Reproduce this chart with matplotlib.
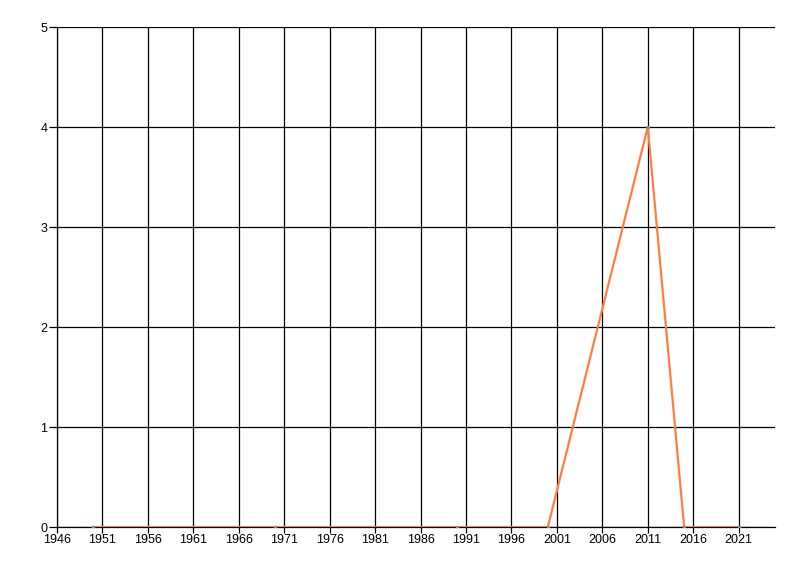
import matplotlib
matplotlib.use('Agg')
import matplotlib.pyplot as plt

years = [1950, 1970, 1990, 2000, 2011, 2015, 2021]
values = [0, 0, 0, 0, 4, 0, 0]
x_ticks = list(range(1946, 2022, 5))
y_ticks = [0, 1, 2, 3, 4, 5]

plt.rcParams['font.family'] = ['Liberation Sans', 'DejaVu Sans']

fig = plt.figure(figsize=(8, 5.76), dpi=100)
ax = fig.add_axes([0.0713, 0.085, 0.8975, 0.868])

ax.plot(years, values, color='#FF7F40', linewidth=1.6, zorder=3,
        marker='o', markersize=1.5, markerfacecolor='#888888', markeredgecolor='#888888')

ax.set_xlim(1946, 2025)
ax.set_ylim(0, 5)
ax.set_xticks(x_ticks)
ax.set_yticks(y_ticks)
ax.grid(True, color='black', linewidth=0.9)
ax.set_axisbelow(True)

for side in ['top', 'right']:
    ax.spines[side].set_visible(False)
ax.spines['left'].set_linewidth(0.9)
ax.spines['bottom'].set_linewidth(0.9)
ax.tick_params(axis='y', length=6, width=0.9, labelsize=9, pad=1)
ax.tick_params(axis='x', length=4, width=0.9, labelsize=9, pad=1)

fig.savefig('out.png', dpi=100)
